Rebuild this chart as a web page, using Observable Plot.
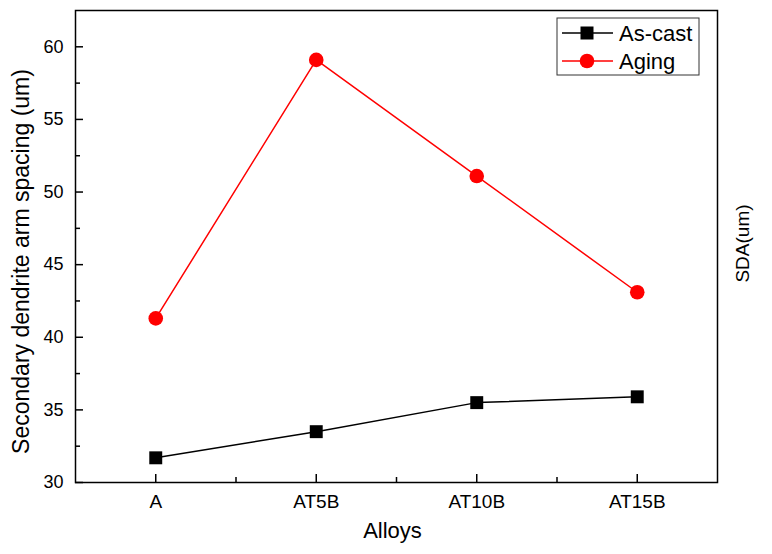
<!DOCTYPE html>
<html>
<head>
<meta charset="utf-8">
<script src="https://cdn.jsdelivr.net/npm/d3@7"></script>
<script src="https://cdn.jsdelivr.net/npm/@observablehq/plot@0.6"></script>
<style>
  html, body { margin: 0; padding: 0; background: #fff; }
</style>
</head>
<body>
<div id="chart"></div>
<script>
const categories = ["A", "AT5B", "AT10B", "AT15B"];
const asCast = [31.7, 33.5, 35.5, 35.9];
const aging = [41.3, 59.1, 51.1, 43.1];
const yTicks = [30, 35, 40, 45, 50, 55, 60];
const yMinorTicks = [32.5, 37.5, 42.5, 47.5, 52.5, 57.5];
const xMinorTicks = [0.5, 1.5, 2.5];
const seriesNames = ["As-cast", "Aging"];
const seriesColors = ["#000000", "#ff0000"];

const rows = [];
categories.forEach((c, i) => {
  rows.push({i, cat: c, series: "As-cast", v: asCast[i]});
  rows.push({i, cat: c, series: "Aging", v: aging[i]});
});
const ascRows = rows.filter(d => d.series === "As-cast");
const agRows = rows.filter(d => d.series === "Aging");
const xIdx = categories.map((c, i) => i);

const font = "'Liberation Sans', Arial, sans-serif";

const chart = Plot.plot({
  width: 772,
  height: 554,
  marginLeft: 75,
  marginRight: 55,
  marginTop: 10,
  marginBottom: 72,
  style: {fontFamily: font, fontSize: "18px", color: "#000", background: "#fff"},
  x: {type: "linear", domain: [-0.5, 3.5], label: null},
  y: {domain: [30, 62.5], label: null},
  marks: [
    // inward ticks
    Plot.axisY(yTicks, {tickSize: 8, dx: 8, text: null, strokeWidth: 1.5, label: null}),
    Plot.axisY(yMinorTicks, {tickSize: 5, dx: 5, text: null, strokeWidth: 1.5, label: null}),
    Plot.axisY(yTicks, {tickSize: 0, tickPadding: 12, fontSize: 18, label: null}),
    Plot.axisX(xIdx, {tickSize: 8, dy: -8, text: null, strokeWidth: 1.5, label: null}),
    Plot.axisX(xMinorTicks, {tickSize: 5, dy: -5, text: null, strokeWidth: 1.5, label: null}),
    Plot.axisX(xIdx, {tickSize: 0, tickPadding: 12, fontSize: 19, label: null, tickFormat: d => categories[d]}),
    // series
    Plot.line(ascRows, {x: "i", y: "v", stroke: seriesColors[0], strokeWidth: 1.5}),
    Plot.line(agRows, {x: "i", y: "v", stroke: seriesColors[1], strokeWidth: 1.5}),
    Plot.dot(ascRows, {x: "i", y: "v", symbol: "square", r: 7.3, fill: seriesColors[0], stroke: "none"}),
    Plot.dot(agRows, {x: "i", y: "v", symbol: "circle", r: 7.3, fill: seriesColors[1], stroke: "none"}),
    // titles
    Plot.text(["Secondary dendrite arm spacing (um)"], {frameAnchor: "left", textAnchor: "middle", dx: -54, dy: 15, rotate: -90, fontSize: 23, fill: "#000"}),
    Plot.text(["SDA(um)"], {frameAnchor: "right", textAnchor: "middle", dx: 25, dy: -3, rotate: -90, fontSize: 19, fill: "#000"}),
    Plot.text(["Alloys"], {frameAnchor: "bottom", textAnchor: "middle", dx: -4, dy: 55, fontSize: 22, fill: "#000"}),
    Plot.frame({stroke: "#000", strokeWidth: 1.5})
  ]
});

// legend
const svg = d3.select(chart);
const lg = svg.append("g").attr("font-family", font).attr("text-anchor", "start");
lg.append("rect").attr("x", 557).attr("y", 18).attr("width", 142).attr("height", 57)
  .attr("fill", "#fff").attr("stroke", "#333").attr("stroke-width", 1);
seriesNames.forEach((name, k) => {
  const y = 33 + k * 28;
  lg.append("line").attr("x1", 562).attr("x2", 613).attr("y1", y).attr("y2", y)
    .attr("stroke", seriesColors[k]).attr("stroke-width", 1.5);
  if (k === 0) {
    lg.append("rect").attr("x", 587 - 6.5).attr("y", y - 6.5).attr("width", 13).attr("height", 13).attr("fill", seriesColors[k]);
  } else {
    lg.append("circle").attr("cx", 587).attr("cy", y).attr("r", 7.3).attr("fill", seriesColors[k]);
  }
  lg.append("text").attr("x", 619).attr("y", y).attr("dy", "0.35em")
    .attr("text-anchor", "start")
    .attr("font-size", 22).attr("fill", "#000").text(name);
});

document.getElementById("chart").appendChild(chart);
</script>
</body>
</html>
